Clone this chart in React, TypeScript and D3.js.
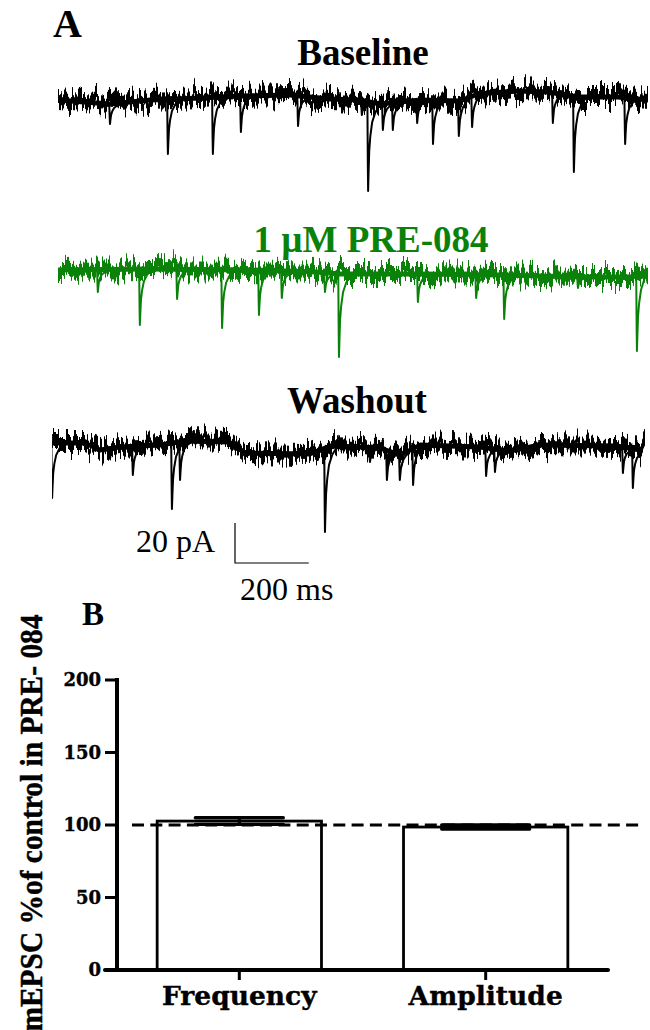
import React from 'react';
import * as d3 from 'd3';

// ---------------- DATA ----------------
// Panel A: mEPSC traces. Time in ms, current in pA (0 = holding level of each trace).
const TRACE_TITLES = ['Baseline', '1 µM PRE-084', 'Washout'];

const BASELINE_LEVEL_T = [0, 141, 250, 385, 494, 629, 737, 819, 873, 982, 1090, 1139, 1248, 1329, 1410, 1519, 1600];
const BASELINE_LEVEL_PA = [0, -2, 0, 1, 2, 2.5, 0.5, 0, -2, 0, -0.5, 3, 4.5, 4, 1.5, 1.5, 0];
const BASELINE_EVENT_T = [141, 298, 420, 496, 651, 824, 841, 881, 908, 974, 1017, 1087, 1123, 1342, 1399, 1538];
const BASELINE_EVENT_PA = [-12, -27, -27, -16, -13, -7.5, -45.5, -15, -15, -11.5, -22, -18, -13.5, -11.5, -36, -22];

const DRUG_LEVEL_T = [0, 250, 521, 700, 765, 982, 1199, 1416, 1560, 1600];
const DRUG_LEVEL_PA = [0, 0.5, 0, -1, -2, -2, -2.5, -3.5, -3.5, 0];
const DRUG_EVENT_T = [108, 222, 323, 445, 545, 607, 724, 762, 976, 1134, 1210, 1410, 1570];
const DRUG_EVENT_PA = [-11, -27.5, -14.5, -29, -22.5, -14, -11, -43.5, -16, -14, -24.5, -9, -40.5];

const WASH_LEVEL_T = [-16, 73, 114, 168, 277, 344, 466, 507, 683, 738, 819, 873, 928, 982, 1144, 1226, 1307, 1516, 1578, 1592];
const WASH_LEVEL_PA = [0, 0, -3.5, -2, -1, 1, 0.5, -5, -5.5, -1.5, -2, -2.5, -6, -1, -2, -4, -1, -1.5, -3.5, 0.5];
const WASH_EVENT_T = [-16, 203, 309, 331, 724, 846, 892, 927, 963, 1161, 1185, 1532, 1559];
const WASH_EVENT_PA = [-27.5, -16, -33, -18.5, -44.5, -9.5, -18.5, -18.5, -21, -16.5, -14.5, -15, -22.5];

// Average mEPSC shape: [ms relative to peak, fraction of peak]
const EVENT_SHAPE: [number, number][] = [
  [-2, 0], [-0.8, 0.7], [0, 1], [1.2, 0.8], [3, 0.55], [6, 0.38], [11, 0.22], [20, 0.1], [34, 0],
];

const SCALE_BAR_PA = 20;
const SCALE_BAR_MS = 200;

// Panel B: bar chart
const CATEGORIES = ['Frequency', 'Amplitude'];
const MEANS = [102.7, 98.6];
const SEMS = [2.3, 1.4];
const Y_TICKS = [0, 50, 100, 150, 200];
const REFERENCE_LEVEL = 100;

// ---------------- LAYOUT ----------------
const W = 650;
const H = 1030;
const SERIF = "'Liberation Serif', 'Times New Roman', serif";
const WIDE_SERIF = "'DejaVu Serif', serif";

const xT = d3.scaleLinear().domain([0, 1600]).range([58, 648]);
const PX_PER_PA = 2;

type TraceDef = {
  title: string; color: string; baseY: number; titleX: number; titleY: number;
  levelT: number[]; levelPA: number[]; eventT: number[]; eventPA: number[];
  seed: number;
};

const TRACES: TraceDef[] = [
  { title: TRACE_TITLES[0], color: '#000000', baseY: 100, titleX: 363, titleY: 65,
    levelT: BASELINE_LEVEL_T, levelPA: BASELINE_LEVEL_PA, eventT: BASELINE_EVENT_T, eventPA: BASELINE_EVENT_PA, seed: 3 },
  { title: TRACE_TITLES[1], color: '#0a820a', baseY: 270, titleX: 371, titleY: 252,
    levelT: DRUG_LEVEL_T, levelPA: DRUG_LEVEL_PA, eventT: DRUG_EVENT_T, eventPA: DRUG_EVENT_PA, seed: 7 },
  { title: TRACE_TITLES[2], color: '#000000', baseY: 443, titleX: 357, titleY: 413,
    levelT: WASH_LEVEL_T, levelPA: WASH_LEVEL_PA, eventT: WASH_EVENT_T, eventPA: WASH_EVENT_PA, seed: 11 },
];

const BAND_HALF = 7;
const CORE_HALF = 2.5;

function Trace({ def, idx }: { def: TraceDef; idx: number }) {
  const y = d3.scaleLinear().domain([0, 1]).range([def.baseY, def.baseY - PX_PER_PA]);
  const level = d3.scaleLinear().domain(def.levelT).range(def.levelPA).clamp(true);
  const idxs = d3.range(def.levelT.length);
  const bandOf = (half: number) => d3.area<number>()
    .x((i) => xT(def.levelT[i]))
    .y0((i) => y(def.levelPA[i]) - half)
    .y1((i) => y(def.levelPA[i]) + half)(idxs) as string;
  const t0 = def.levelT[0];
  const t1 = def.levelT[def.levelT.length - 1];
  const line = d3.line();
  const events = def.eventT.map((t, k) => {
    const peak = def.eventPA[k];
    const depth = peak - level(t);
    const pts: [number, number][] = EVENT_SHAPE.map(([dt, f]) => {
      const tt = t + dt;
      return [xT(tt), y(level(tt) + f * depth)];
    });
    return line(pts) as string;
  });
  const fid = `noise${idx}`;
  const cid = `clip${idx}`;
  return (
    <g>
      <defs>
        <filter id={fid} filterUnits="userSpaceOnUse" x={0} y={def.baseY - 60} width={W} height={140}
          colorInterpolationFilters="sRGB">
          <feTurbulence type="fractalNoise" baseFrequency="0.45 0.006" numOctaves={2} seed={def.seed} result="turb" />
          <feColorMatrix in="turb" type="matrix"
            values="0 0 0 0 0.5  0 1 0 0 0  0 0 0 0 0  0 0 0 0 1" result="map" />
          <feDisplacementMap in="SourceGraphic" in2="map" scale={34} xChannelSelector="R" yChannelSelector="G" />
        </filter>
        <clipPath id={cid}>
          <rect x={xT(t0)} y={def.baseY - 80} width={xT(t1) - xT(t0)} height={180} />
        </clipPath>
      </defs>
      <text x={def.titleX} y={def.titleY} textAnchor="middle" fontFamily={SERIF} fontWeight="bold"
        fontSize={37} fill={def.color}>{def.title}</text>
      <g clipPath={`url(#${cid})`}>
        <path d={bandOf(CORE_HALF)} fill={def.color} />
        <g filter={`url(#${fid})`}>
          <path d={bandOf(BAND_HALF)} fill={def.color} />
        </g>
        {events.map((d, k) => (
          <path key={k} d={d} fill="none" stroke={def.color} strokeWidth={2} strokeLinejoin="round" />
        ))}
      </g>
    </g>
  );
}

function PanelB() {
  const yB = d3.scaleLinear().domain([0, 200]).range([970, 680]);
  const xB = d3.scaleBand<string>().domain(CATEGORIES).range([117, 608]).paddingInner(0.333).paddingOuter(0.163);
  const bw = xB.bandwidth();
  const capHalf = 44;
  return (
    <g>
      <text x={82} y={625} fontFamily={SERIF} fontWeight="bold" fontSize={33}>B</text>
      <text transform={`translate(42, 823) rotate(-90)`} textAnchor="middle" fontFamily={SERIF}
        fontWeight="bold" fontSize={32} textLength={417} lengthAdjust="spacingAndGlyphs" stroke="#000" strokeWidth={0.5}>
        mEPSC %of control in PRE- 084
      </text>
      {CATEGORIES.map((c, i) => {
        const x0 = xB(c)!;
        const cx = x0 + bw / 2;
        const m = MEANS[i];
        const s = SEMS[i];
        return (
          <g key={c}>
            <rect x={x0} y={yB(m)} width={bw} height={yB(0) - yB(m)} fill="#fff" stroke="#000" strokeWidth={2.8} />
            <line x1={cx} x2={cx} y1={yB(m - s)} y2={yB(m + s)} stroke="#000" strokeWidth={3.2} />
            <line x1={cx - capHalf} x2={cx + capHalf} y1={yB(m + s)} y2={yB(m + s)} stroke="#000" strokeWidth={3.3} strokeLinecap="round" />
            <line x1={cx - capHalf} x2={cx + capHalf} y1={yB(m - s)} y2={yB(m - s)} stroke="#000" strokeWidth={3.3} strokeLinecap="round" />
          </g>
        );
      })}
      <line x1={132} x2={642} y1={yB(REFERENCE_LEVEL)} y2={yB(REFERENCE_LEVEL)} stroke="#000" strokeWidth={3}
        strokeDasharray="12 6.3" />
      {/* y axis */}
      <line x1={117} x2={117} y1={yB(200) - 2} y2={yB(0) + 2} stroke="#000" strokeWidth={4} />
      {Y_TICKS.map((t) => (
        <g key={t}>
          <line x1={105} x2={117} y1={yB(t)} y2={yB(t)} stroke="#000" strokeWidth={3} />
          <text x={101} y={yB(t)} dy="0.36em" textAnchor="end" fontFamily={WIDE_SERIF} fontWeight="bold"
            fontSize={18} stroke="#000" strokeWidth={0.4}>{t}</text>
        </g>
      ))}
      {/* x axis */}
      <line x1={105} x2={608} y1={yB(0)} y2={yB(0)} stroke="#000" strokeWidth={4} strokeLinecap="round" />
      {CATEGORIES.map((c) => {
        const cx = xB(c)! + bw / 2;
        return (
          <g key={c}>
            <line x1={cx} x2={cx} y1={yB(0)} y2={yB(0) + 10} stroke="#000" strokeWidth={3} />
            <text x={cx} y={1005} textAnchor="middle" fontFamily={WIDE_SERIF} fontWeight="bold" fontSize={26.5}
              stroke="#000" strokeWidth={0.4}>{c}</text>
          </g>
        );
      })}
    </g>
  );
}

export default function App() {
  const sbX = 235;
  const sbY = 563;
  const sbW = xT(SCALE_BAR_MS) - xT(0);
  const sbH = SCALE_BAR_PA * PX_PER_PA;
  return (
    <svg width={W} height={H} viewBox={`0 0 ${W} ${H}`}
      style={{ position: 'absolute', left: 0, top: 0, display: 'block', background: '#fff' }}>
      <rect x={0} y={0} width={W} height={H} fill="#fff" />
      <text x={53} y={37} fontFamily={SERIF} fontWeight="bold" fontSize={40}>A</text>
      {TRACES.map((t, i) => <Trace key={i} def={t} idx={i} />)}
      {/* scale bar */}
      <path d={`M${sbX},${sbY - sbH}V${sbY}H${sbX + sbW}`} fill="none" stroke="#000" strokeWidth={1.2} />
      <text x={215} y={552} textAnchor="end" fontFamily={SERIF} fontSize={32}>{`${SCALE_BAR_PA} pA`}</text>
      <text x={240} y={600} fontFamily={SERIF} fontSize={32}>{`${SCALE_BAR_MS} ms`}</text>
      <PanelB />
    </svg>
  );
}
